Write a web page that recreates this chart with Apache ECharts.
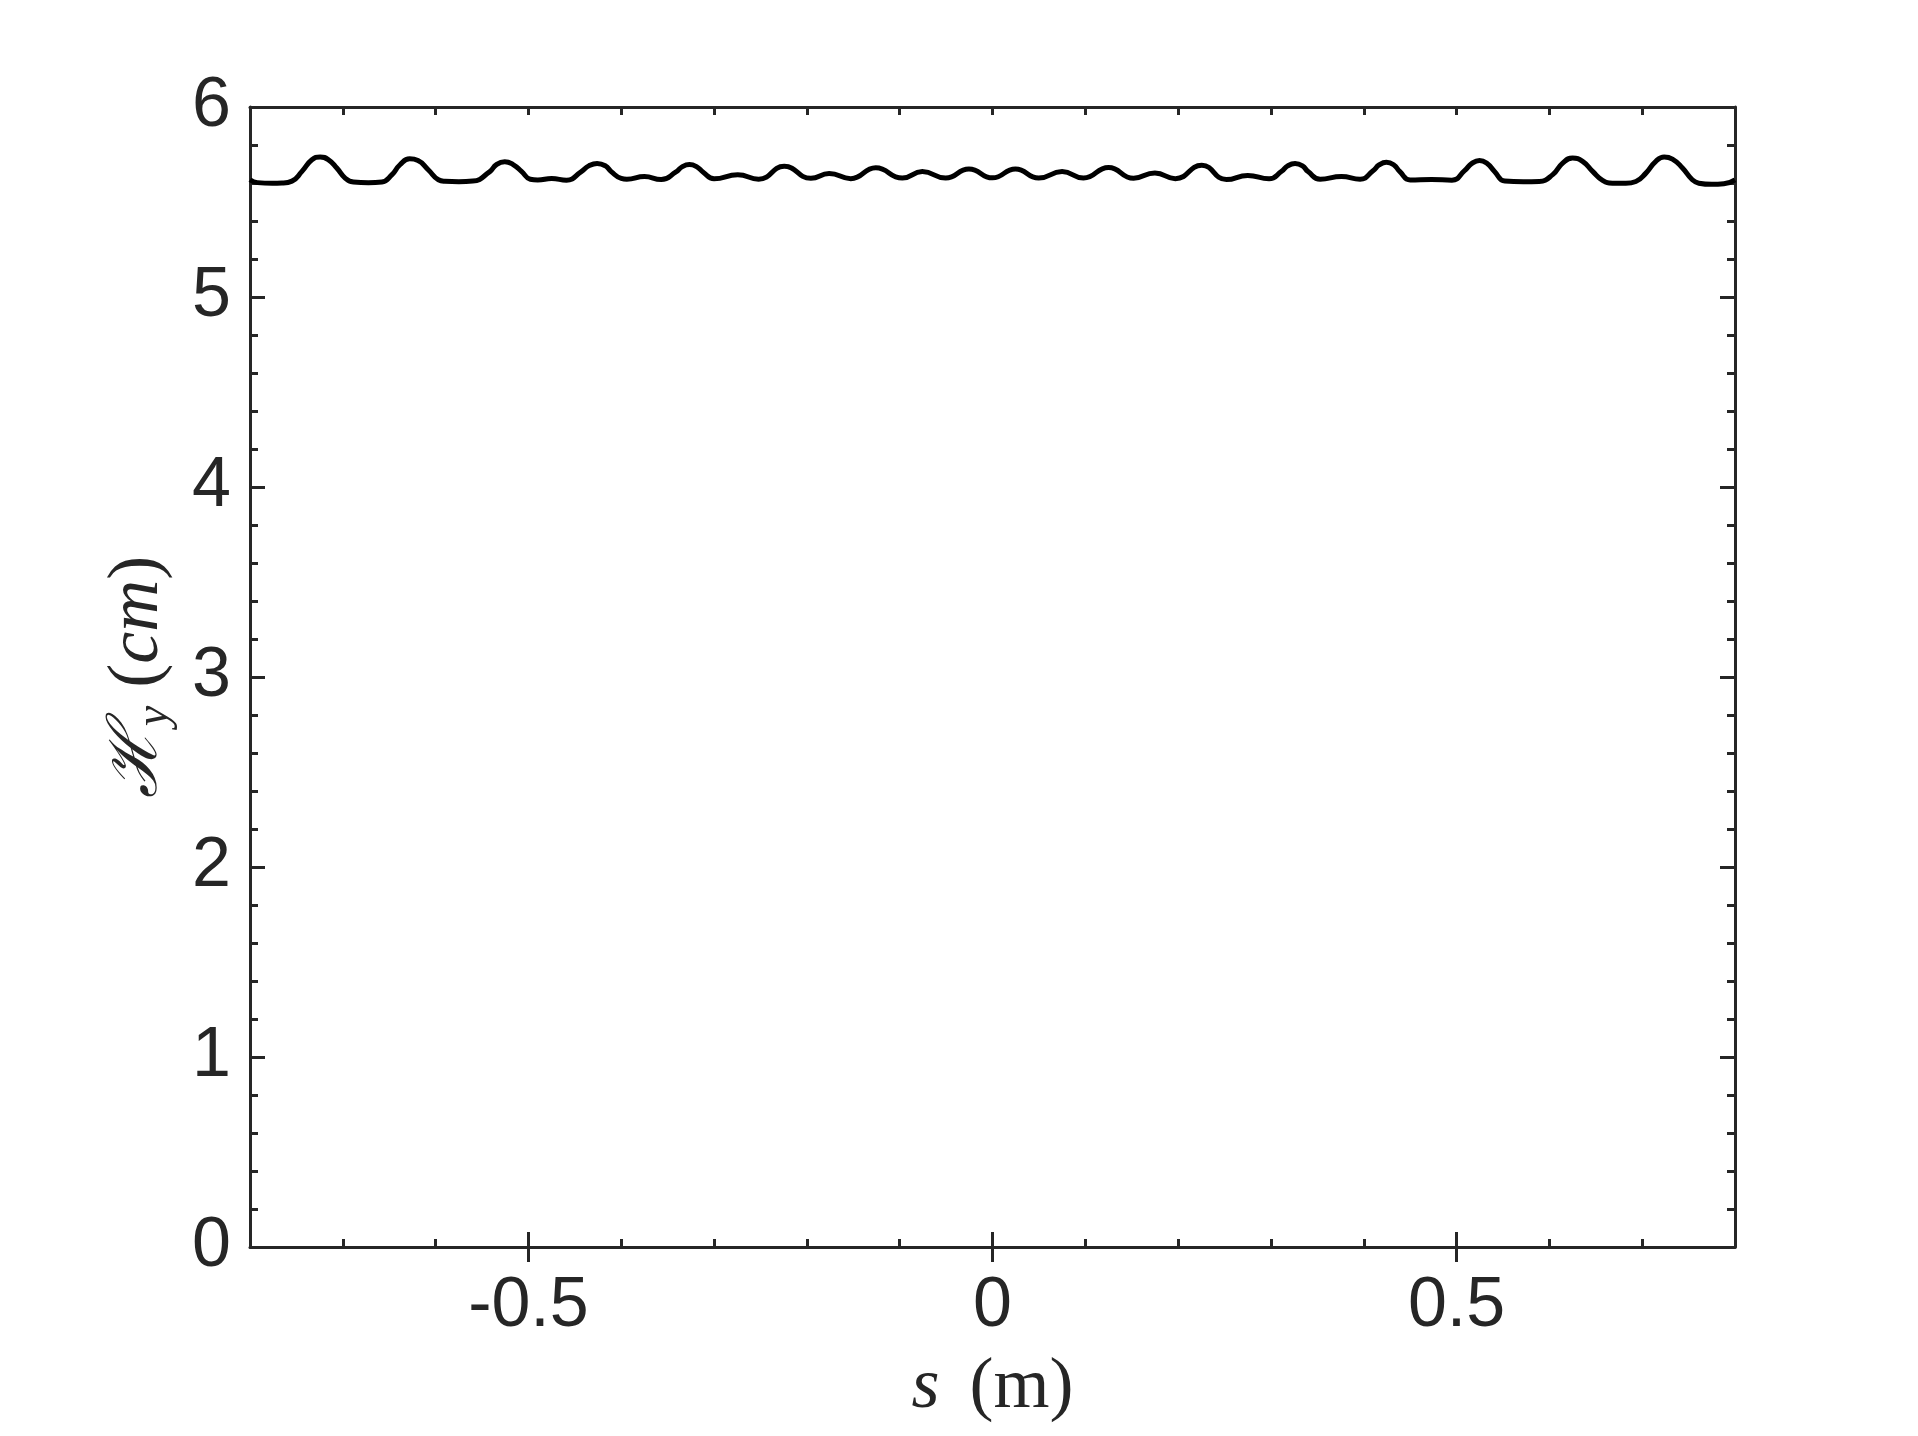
<!DOCTYPE html>
<html>
<head>
<meta charset="utf-8">
<script src="https://cdn.jsdelivr.net/npm/echarts@6/dist/echarts.min.js"></script>
<style>
html,body{margin:0;padding:0;background:#fff;}
#main{width:1918px;height:1436px;}
</style>
</head>
<body>
<div id="main"></div>
<script>
// s positions (m)
const sValues = [
 -0.800,-0.792,-0.776,-0.7656,-0.7548,-0.744,-0.7333,-0.7244,-0.7154,-0.7065,-0.6975,-0.6885,
 -0.6724,-0.658,-0.647,-0.6384,-0.628,-0.619,-0.608,-0.597,-0.590,-0.575,-0.560,
 -0.5416,-0.5345,-0.5255,-0.5165,-0.5075,-0.498,-0.490,-0.475,-0.459,
 -0.443,-0.435,-0.426,-0.417,-0.4108,-0.400,-0.394,-0.375,-0.357,
 -0.341,-0.3345,-0.3265,-0.3185,-0.312,-0.300,-0.2745,-0.252,
 -0.2244,-0.1957,-0.176,-0.1527,-0.1258,-0.0971,-0.0756,-0.0505,-0.0254,0.0,0.0247,0.0498,
 0.075,0.098,0.125,0.152,0.175,0.197,0.2255,0.252,0.275,0.298,
 0.3115,0.318,0.326,0.334,0.340,0.353,0.376,0.396,
 0.410,0.4165,0.4244,0.4325,0.4387,0.450,0.473,0.495,
 0.5086,0.5165,0.5247,0.533,0.5409,0.552,0.572,0.589,
 0.6036,0.6143,0.625,0.6358,0.6466,0.6573,0.668,0.6824,0.6932,
 0.704,0.7147,0.7237,0.7326,0.7434,0.754,0.761,0.775,0.788,0.800
];
// H_y values (cm)
const hValues = [
 5.617,5.602,5.599,5.600,5.610,5.661,5.722,5.737,5.722,5.679,5.626,5.605,
 5.601,5.605,5.644,5.696,5.727,5.718,5.670,5.617,5.609,5.607,5.610,
 5.660,5.697,5.712,5.697,5.661,5.620,5.616,5.624,5.615,
 5.660,5.690,5.703,5.690,5.660,5.624,5.620,5.634,5.618,
 5.658,5.685,5.697,5.685,5.658,5.622,5.643,5.620,
 5.688,5.625,5.650,5.623,5.680,5.626,5.660,5.626,5.674,5.627,5.674,5.626,
 5.660,5.626,5.682,5.625,5.653,5.623,5.693,5.618,5.640,5.622,
 5.662,5.690,5.702,5.690,5.660,5.620,5.634,5.620,
 5.664,5.695,5.709,5.695,5.661,5.616,5.619,5.615,
 5.665,5.703,5.719,5.703,5.661,5.610,5.607,5.608,
 5.644,5.705,5.732,5.714,5.661,5.614,5.599,5.599,5.608,
 5.652,5.714,5.737,5.726,5.679,5.617,5.599,5.593,5.596,5.617
];
const xMajorTicks = [-0.5, 0, 0.5];
const xLabels = ['-0.5', '0', '0.5'];
const yTickLabels = ['0','1','2','3','4','5','6'];

const AX = '#262626';
const LBL_FONT = 'Liberation Sans, Arial, Helvetica, sans-serif';
const SERIF = 'Liberation Serif, DejaVu Serif, serif';

const chart = echarts.init(document.getElementById('main'), null, {renderer:'canvas'});

const baseX = {
  type:'value', gridIndex:0, min:-0.8, max:0.8,
  splitLine:{show:false},
  axisLine:{show:true, onZero:false, lineStyle:{color:AX, width:3}},
};
const option = {
  backgroundColor:'#fff',
  animation:false,
  grid:{left:250, right:183, top:107, bottom:189, containLabel:false},
  xAxis:[
    Object.assign({}, baseX, {
      position:'bottom', interval:0.1,
      axisTick:{show:true, inside:true, length:8, lineStyle:{color:AX, width:3}},
      axisLabel:{
        show:true, margin:25, color:AX, fontSize:70, fontFamily:LBL_FONT,
        formatter:function(v){
          const i = xMajorTicks.findIndex(t => Math.abs(t - v) < 1e-6);
          return i >= 0 ? xLabels[i] : '';
        }
      },
      name:'{i|s}{r|(m)}',
      nameLocation:'middle', nameGap:105,
      nameTextStyle:{
        color:AX,
        rich:{
          i:{fontFamily:SERIF, fontStyle:'italic', fontSize:72, color:AX, padding:[0,30,0,0]},
          r:{fontFamily:SERIF, fontSize:72, color:AX}
        }
      }
    }),
    Object.assign({}, baseX, {
      position:'bottom',
      axisLine:{show:false},
      axisTick:{show:true, inside:true, length:15, customValues:xMajorTicks, lineStyle:{color:AX, width:3}},
      axisLabel:{show:false}
    }),
    Object.assign({}, baseX, {
      position:'top', interval:0.1,
      axisTick:{show:true, inside:true, length:8, lineStyle:{color:AX, width:3}},
      axisLabel:{show:false}
    }),
    Object.assign({}, baseX, {
      position:'top',
      axisLine:{show:false},
      axisTick:{show:true, inside:true, length:15, customValues:xMajorTicks, lineStyle:{color:AX, width:3}},
      axisLabel:{show:false}
    })
  ],
  yAxis:[
    {
      type:'value', gridIndex:0, position:'left', min:0, max:6, interval:1,
      splitLine:{show:false},
      axisLine:{show:true, onZero:false, lineStyle:{color:AX, width:3}},
      axisTick:{show:true, inside:true, length:15, lineStyle:{color:AX, width:3}},
      minorTick:{show:true, splitNumber:5, length:8, lineStyle:{color:AX, width:3}},
      axisLabel:{
        show:true, margin:19, color:AX, fontSize:70, fontFamily:LBL_FONT,
        formatter:function(v){ return yTickLabels[Math.round(v)]; }
      },
      name:'{h|ℋ}{s|y}{r| (}{i|cm}{r|)}',
      nameLocation:'middle', nameGap:72, nameRotate:90,
      nameTextStyle:{
        color:AX,
        rich:{
          h:{fontFamily:'DejaVu Serif, serif', fontStyle:'italic', fontSize:68, color:AX, lineHeight:80},
          s:{fontFamily:SERIF, fontStyle:'italic', fontSize:46, color:AX, verticalAlign:'bottom', lineHeight:80, padding:[24,0,0,0]},
          r:{fontFamily:SERIF, fontSize:72, color:AX, lineHeight:80},
          i:{fontFamily:SERIF, fontStyle:'italic', fontSize:72, color:AX, lineHeight:80}
        }
      }
    },
    {
      type:'value', gridIndex:0, position:'right', min:0, max:6, interval:1,
      splitLine:{show:false},
      axisLine:{show:true, onZero:false, lineStyle:{color:AX, width:3}},
      axisTick:{show:true, inside:true, length:15, lineStyle:{color:AX, width:3}},
      minorTick:{show:true, splitNumber:5, length:8, lineStyle:{color:AX, width:3}},
      axisLabel:{show:false}
    }
  ],
  series:[{
    type:'line', xAxisIndex:0, yAxisIndex:0,
    data: sValues.map((s,i)=>[s, hValues[i]]),
    showSymbol:false, smooth:0.5,
    lineStyle:{color:'#000', width:5},
    clip:true
  }]
};
chart.setOption(option);
</script>
</body>
</html>
